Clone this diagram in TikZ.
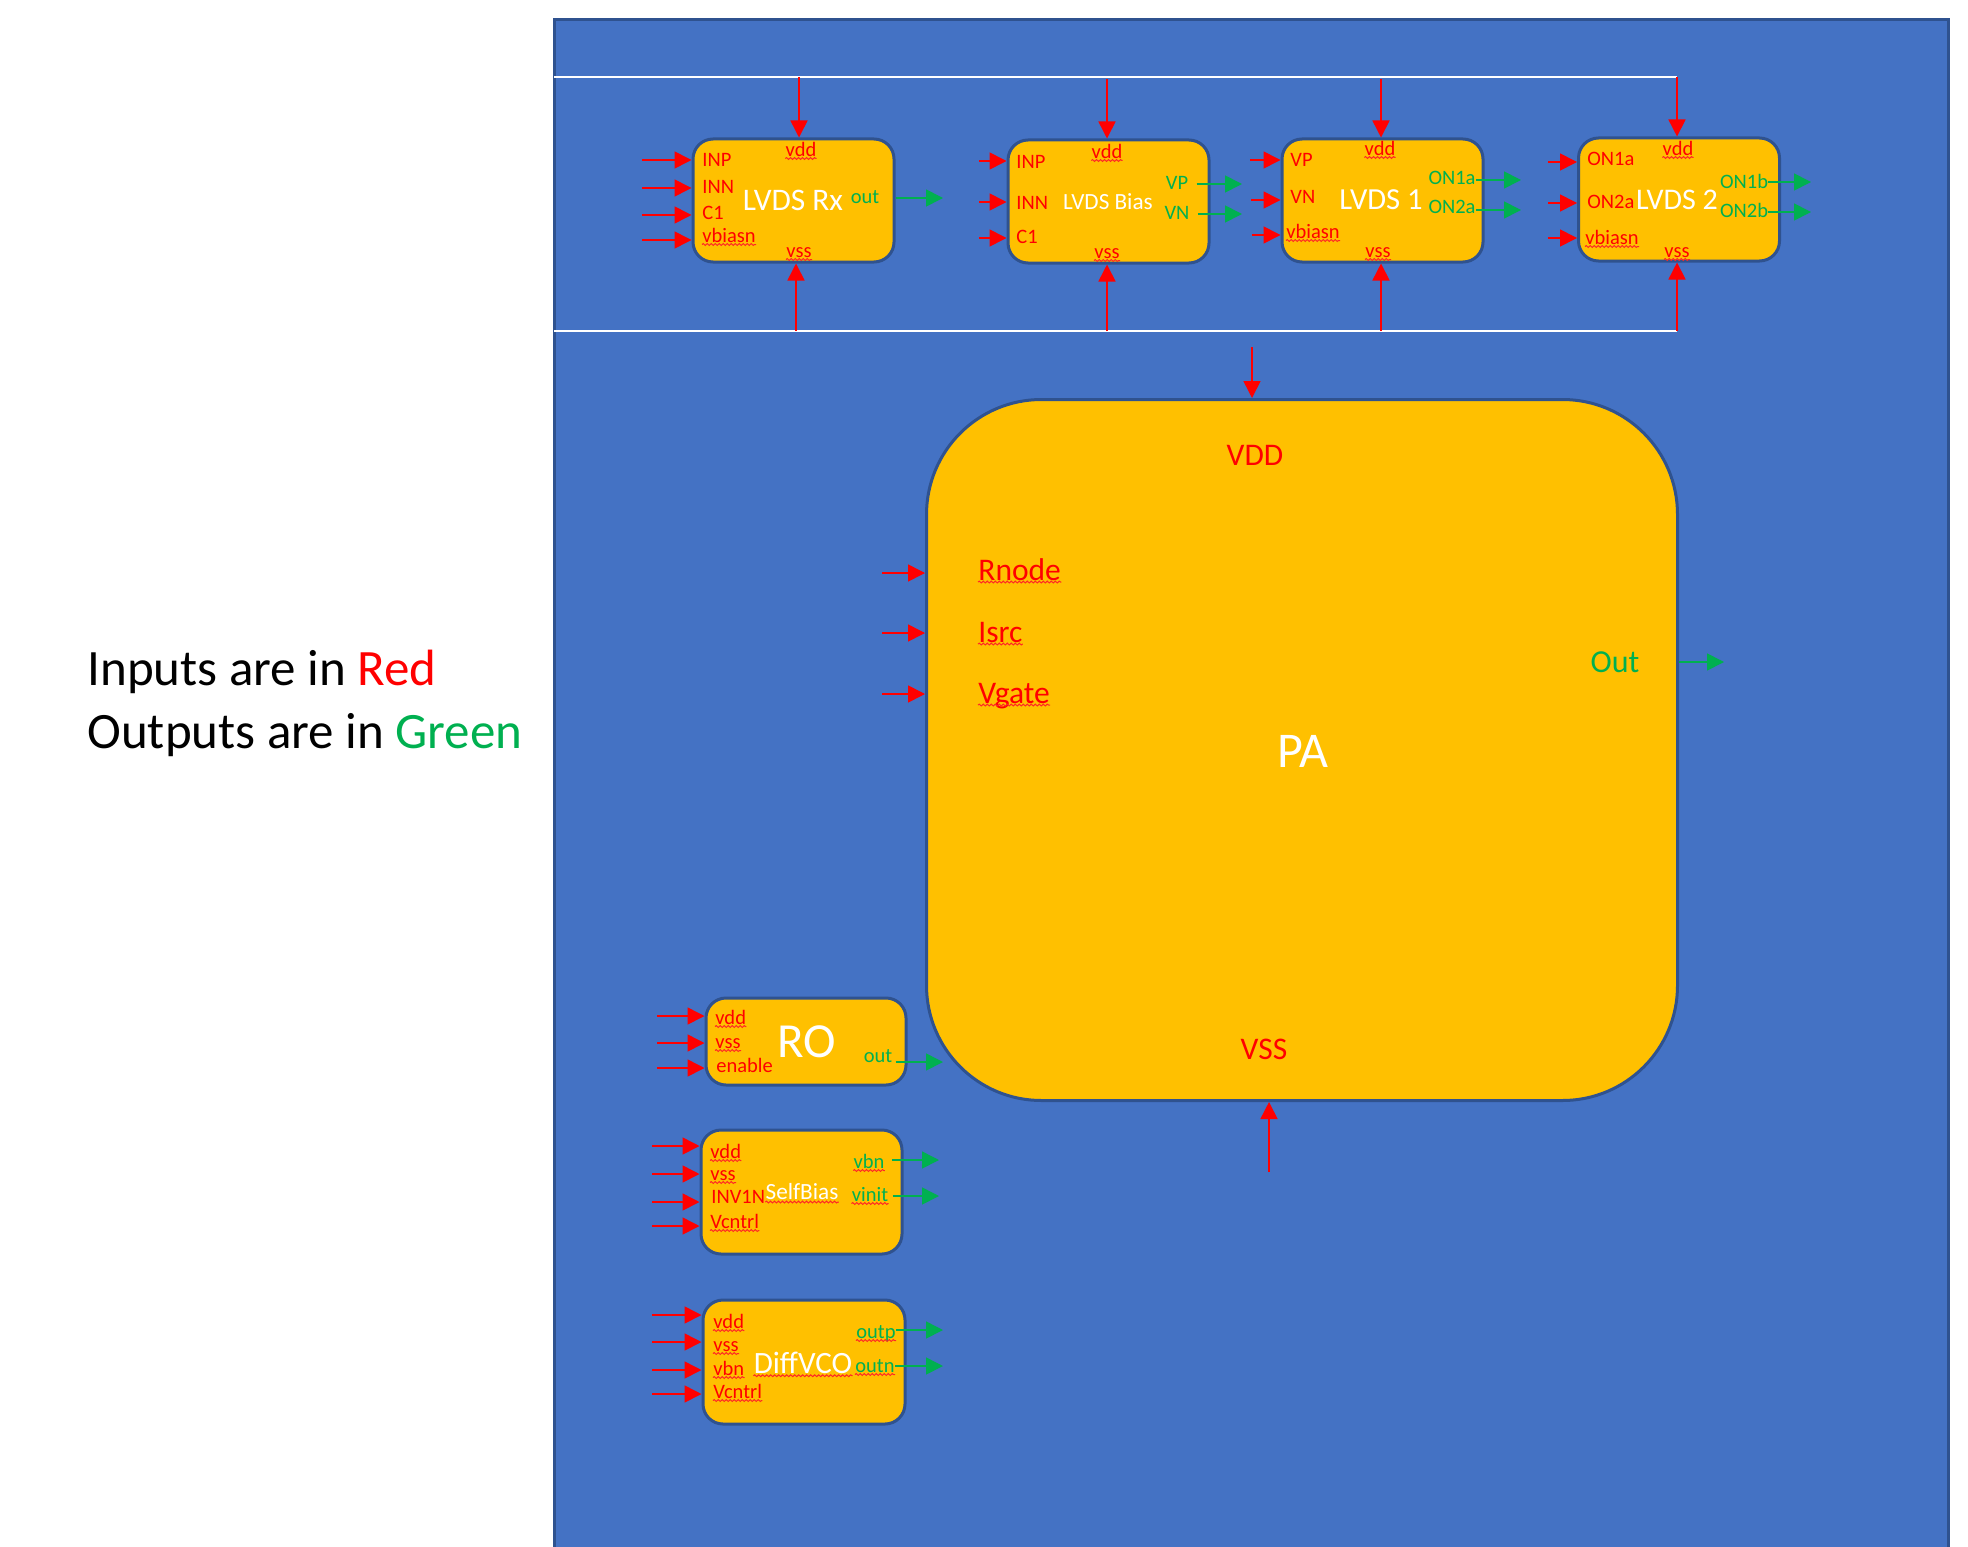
\documentclass[tikz,border=0pt]{standalone}
\usepackage{fontspec}
\setmainfont{Carlito}
\usetikzlibrary{arrows.meta,decorations.pathmorphing,calc}
\definecolor{pnl}{HTML}{4472C4}
\definecolor{pnlb}{HTML}{2F528F}
\definecolor{blky}{HTML}{FFC000}
\definecolor{ired}{HTML}{FF0000}
\definecolor{ogrn}{HTML}{00B050}
\begin{document}
\begin{tikzpicture}[x=0.5pt,y=-0.5pt,
 blk/.style={draw=pnlb, line width=1.5pt, fill=blky, rounded corners=10pt, inner sep=0pt},
 inarr/.style={draw=ired, line width=0.8pt, -{Triangle[length=8.5pt,width=8.5pt]}},
 outarr/.style={draw=ogrn, line width=0.8pt, -{Triangle[length=8.5pt,width=8.5pt]}},
 sm/.style={inner sep=0pt, text height=6.6pt, text depth=0pt, font=\fontsize{10.25pt}{12pt}\selectfont},
 rl/.style={sm, text=ired},
 gl/.style={sm, text=ogrn},
 ttl/.style={inner sep=0pt, text=white, font=\fontsize{#1}{#1}\selectfont},
 pal/.style={inner sep=0pt, text height=10.15pt, text depth=0pt, font=\fontsize{15.75pt}{18pt}\selectfont, text=ired},
 sq/.style={draw=ired!85!white, line width=0.5pt, decorate, decoration={snake, amplitude=0.45pt, segment length=2pt}},
 wline/.style={draw=white, line width=1pt}
]
\useasboundingbox (0,0) rectangle (1968,1546);
\fill[white] (0,0) rectangle (1968,1546);

% legend
\node[anchor=base west, inner sep=0pt, font=\fontsize{25.5pt}{30pt}\selectfont] (leg1) at (87,685) {Inputs are in \textcolor{ired}{Red}};
\node[anchor=base west, inner sep=0pt, font=\fontsize{25.5pt}{30pt}\selectfont] (leg2) at (87,748) {Outputs are in \textcolor{ogrn}{Green}};

% panel
\draw[draw=pnlb, fill=pnl, line width=1.5pt] (554.5,19.5) rectangle (1948.5,1565);
\coordinate (wtl) at (554,77); \coordinate (wtr) at (1677,77);
\coordinate (wbl) at (554,331); \coordinate (wbr) at (1677,331);
\draw[wline] (wtl) -- (wtr);
\draw[wline] (wbl) -- (wbr);

% ---------- LVDS Rx ----------
\node[blk, minimum width=100.5pt, minimum height=61.5pt] (rx) at (793.5,200.5) {};
\node[rl, anchor=west] (rxinp) at (702,160) {INP};
\node[rl, anchor=west] (rxinn) at (702,187) {INN};
\node[rl, anchor=west] (rxc1) at (702,213) {C1};
\node[rl, anchor=west] (rxvb) at (702,236) {vbiasn};
\node[rl] (rxvdd) at (801,150) {vdd};
\node[rl] (rxvss) at (799,251) {vss};
\node[ttl=15.7pt] (rxt) at (793,200) {LVDS Rx};
\node[gl] (rxout) at (865,197) {out};
\foreach \yy [count=\i] in {160,188,215,240}{\coordinate (rxa\i) at (642,\yy); \draw[inarr] (rxa\i) -- (rxa\i -| rx.west);}
\coordinate (rxtop) at (799,77); \draw[inarr] (rxtop) -- (rxtop |- rx.north);
\coordinate (rxbot) at (796,331); \draw[inarr] (rxbot) -- (rxbot |- rx.south);
\coordinate (rxo) at (943,198); \draw[outarr] (rxo -| rx.east) -- (rxo);

% ---------- LVDS Bias ----------
\node[blk, minimum width=100.5pt, minimum height=61.5pt] (bs) at (1108.5,201.5) {};
\node[rl, anchor=west] (bsinp) at (1016,162) {INP};
\node[rl, anchor=west] (bsinn) at (1016,203) {INN};
\node[rl, anchor=west] (bsc1) at (1016,237) {C1};
\node[rl] (bsvdd) at (1107,152) {vdd};
\node[rl] (bsvss) at (1107,252) {vss};
\node[ttl=11.6pt] (bst) at (1108,202) {LVDS Bias};
\node[gl] (bsvp) at (1177,183) {VP};
\node[gl] (bsvn) at (1177,213) {VN};
\foreach \yy [count=\i] in {161,202,238}{\coordinate (bsa\i) at (979,\yy); \draw[inarr] (bsa\i) -- (bsa\i -| bs.west);}
\coordinate (bstop) at (1107,79); \draw[inarr] (bstop) -- (bstop |- bs.north);
\coordinate (bsbot) at (1107,331); \draw[inarr] (bsbot) -- (bsbot |- bs.south);
\coordinate (bso1) at (1242,184); \draw[outarr, shorten <=4pt] (bso1 -| bsvp.east) -- (bso1);
\coordinate (bso2) at (1242,214); \draw[outarr, shorten <=4pt] (bso2 -| bsvn.east) -- (bso2);

% ---------- LVDS 1 ----------
\node[blk, minimum width=100.5pt, minimum height=61.5pt] (la) at (1382.5,200.5) {};
\node[rl, anchor=west] (lavp) at (1290,160) {VP};
\node[rl, anchor=west] (lavn) at (1290,197) {VN};
\node[rl, anchor=west] (lavb) at (1286,232) {vbiasn};
\node[rl] (lavdd) at (1380,149) {vdd};
\node[rl] (lavss) at (1378,251) {vss};
\node[ttl=15.3pt] (lat) at (1381,200) {LVDS 1};
\node[gl] (lao1) at (1452,178) {ON1a};
\node[gl] (lao2) at (1452,207) {ON2a};
\coordinate (laa1) at (1250,160); \draw[inarr] (laa1) -- (laa1 -| la.west);
\coordinate (laa2) at (1251,200); \draw[inarr] (laa2) -- (laa2 -| la.west);
\coordinate (laa3) at (1252,235); \draw[inarr] (laa3) -- (laa3 -| la.west);
\coordinate (latop) at (1381,79); \draw[inarr] (latop) -- (latop |- la.north);
\coordinate (labot) at (1381,331); \draw[inarr] (labot) -- (labot |- la.south);
\coordinate (lae1) at (1521,180); \draw[outarr] (lae1 -| lao1.east) -- (lae1);
\coordinate (lae2) at (1521,210); \draw[outarr] (lae2 -| lao2.east) -- (lae2);

% ---------- LVDS 2 ----------
\node[blk, minimum width=100.5pt, minimum height=61.5pt] (lb) at (1679,199.5) {};
\node[rl, anchor=west] (lbi1) at (1587,159) {ON1a};
\node[rl, anchor=west] (lbi2) at (1587,202) {ON2a};
\node[rl, anchor=west] (lbvb) at (1585,238) {vbiasn};
\node[rl] (lbvdd) at (1678,149) {vdd};
\node[rl] (lbvss) at (1677,251) {vss};
\node[ttl=15pt] (lbt) at (1677,200) {LVDS 2};
\node[gl] (lbo1) at (1744,182) {ON1b};
\node[gl] (lbo2) at (1744,211) {ON2b};
\foreach \yy [count=\i] in {162,203,238}{\coordinate (lba\i) at (1548,\yy); \draw[inarr] (lba\i) -- (lba\i -| lb.west);}
\draw[inarr] (wtr) -- (wtr |- lb.north);
\draw[inarr] (wbr) -- (wbr |- lb.south);
\coordinate (lbe1) at (1811,182); \draw[outarr] (lbe1 -| lbo1.east) -- (lbe1);
\coordinate (lbe2) at (1811,212); \draw[outarr] (lbe2 -| lbo2.east) -- (lbe2);

% ---------- PA ----------
\node[blk, rounded corners=57.5pt, minimum width=375.5pt, minimum height=350.5pt] (pa) at (1302,750) {};
\node[pal] (pavdd) at (1255,455) {VDD};
\node[pal] (pavss) at (1264,1049) {VSS};
\node[pal, anchor=west] (parn) at (978,570) {Rnode};
\node[pal, anchor=west] (pais) at (978,632) {Isrc};
\node[pal, anchor=west] (pavg) at (978,693) {Vgate};
\node[pal, text=ogrn, font=\fontsize{16pt}{18pt}\selectfont] (paout) at (1615,662) {Out};
\node[ttl=25pt] (pat) at (1303,751) {PA};
\coordinate (patop) at (1252,347); \draw[inarr] (patop) -- (patop |- pa.north);
\coordinate (pabot) at (1269,1172); \draw[inarr] (pabot) -- (pabot |- pa.south);
\foreach \yy [count=\i] in {573,633,694}{\coordinate (paa\i) at (882,\yy); \draw[inarr] (paa\i) -- (paa\i -| pa.west);}
\coordinate (pae) at (1724,662); \draw[outarr] (pae -| pa.east) -- (pae);

% ---------- RO ----------
\node[blk, minimum width=100pt, minimum height=43.5pt] (ro) at (806,1041.5) {};
\node[rl, anchor=west] (rovdd) at (715,1018) {vdd};
\node[rl, anchor=west] (rovss) at (715,1042) {vss};
\node[rl, anchor=west] (roen) at (716,1066) {enable};
\node[ttl=24.5pt] (rot) at (807,1042) {RO};
\node[gl] (roout) at (878,1056) {out};
\foreach \yy [count=\i] in {1016,1043,1068}{\coordinate (roa\i) at (657,\yy); \draw[inarr] (roa\i) -- (roa\i -| ro.west);}
\coordinate (roe) at (943,1062); \draw[outarr, shorten <=1.5pt] (roe -| roout.east) -- (roe);

% ---------- SelfBias ----------
\node[blk, minimum width=100.5pt, minimum height=62pt] (sb) at (801.5,1192) {};
\node[rl, anchor=west] (sbvdd) at (710,1152) {vdd};
\node[rl, anchor=west] (sbvss) at (710,1174) {vss};
\node[rl, anchor=west] (sbinv) at (711,1197) {INV1N};
\node[rl, anchor=west] (sbvc) at (710,1222) {Vcntrl};
\node[ttl=11.6pt] (sbt) at (802,1192) {SelfBias};
\node[gl] (sbvbn) at (869,1162) {vbn};
\node[gl] (sbvin) at (870,1195) {vinit};
\foreach \yy [count=\i] in {1146,1174,1202,1226}{\coordinate (sba\i) at (652,\yy); \draw[inarr] (sba\i) -- (sba\i -| sb.west);}
\coordinate (sbe1) at (939,1160); \draw[outarr, shorten <=3.5pt] (sbe1 -| sbvbn.east) -- (sbe1);
\coordinate (sbe2) at (939,1196); \draw[outarr, shorten <=2pt] (sbe2 -| sbvin.east) -- (sbe2);

% ---------- DiffVCO ----------
\node[blk, minimum width=101pt, minimum height=62pt] (vc) at (804,1362) {};
\node[rl, anchor=west] (vcvdd) at (713,1322) {vdd};
\node[rl, anchor=west] (vcvss) at (713,1345) {vss};
\node[rl, anchor=west] (vcvbn) at (713,1369) {vbn};
\node[rl, anchor=west] (vcvc) at (713,1392) {Vcntrl};
\node[ttl=15.5pt] (vct) at (803,1363) {DiffVCO};
\node[gl] (vcop) at (876,1332) {outp};
\node[gl] (vcon) at (875,1366) {outn};
\foreach \yy [count=\i] in {1315,1342,1370,1394}{\coordinate (vca\i) at (652,\yy); \draw[inarr] (vca\i) -- (vca\i -| vc.west);}
\coordinate (vce1) at (943,1330); \draw[outarr] (vce1 -| vcop.east) -- (vce1);
\coordinate (vce2) at (943,1366); \draw[outarr] (vce2 -| vcon.east) -- (vce2);

% spell-check squiggles
\foreach \n in {rxvdd,rxvss,rxvb,bsvdd,bsvss,lavdd,lavss,lavb,lbvdd,lbvss,lbvb,parn,pais,pavg,rovdd,rovss,sbvdd,sbvss,sbvc,sbt,sbvbn,sbvin,vcvdd,vcvss,vcvbn,vcvc,vct,vcop,vcon}
  {\draw[sq] ([yshift=-0.75pt]\n.south west) -- ([yshift=-0.75pt]\n.south east);}
\end{tikzpicture}
\end{document}
